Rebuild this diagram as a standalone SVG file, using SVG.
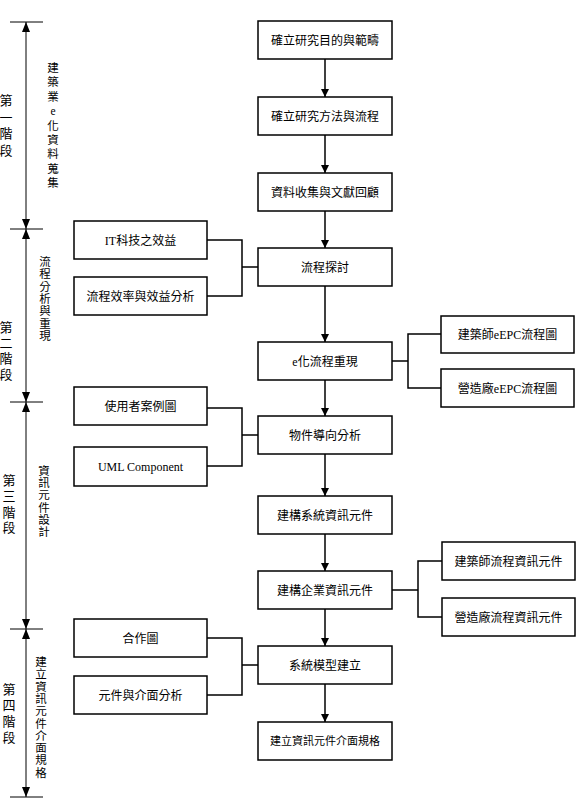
<svg xmlns="http://www.w3.org/2000/svg" width="578" height="799" viewBox="0 0 578 799">
<style>
.box{fill:#fff;stroke:#000;stroke-width:1.5}
.t{font-family:"Liberation Serif","Noto Sans CJK TC",serif;font-size:12px;fill:#000;text-anchor:middle}
.s{font-size:11px}
.v{font-family:"Liberation Serif","Noto Sans CJK TC",serif;font-size:13px;fill:#000;text-anchor:middle}
.v2{font-family:"Liberation Serif","Noto Sans CJK TC",serif;font-size:11.5px;fill:#000;text-anchor:middle}
.ln{fill:none;stroke:#000;stroke-width:1.5}
.dim{fill:none;stroke:#000;stroke-width:1}
</style>
<defs>
<marker id="ah" markerWidth="8" markerHeight="10" refX="8" refY="4" orient="auto" markerUnits="userSpaceOnUse">
<path d="M0,0 L8,4 L0,8 Z" fill="#000"/>
</marker>
<marker id="dh" markerWidth="10" markerHeight="8" refX="10" refY="4" orient="auto-start-reverse" markerUnits="userSpaceOnUse">
<path d="M0,0 L10,4 L0,8 Z" fill="#000"/>
</marker>
</defs>

<g id="stages">
<g class="dim">
<line x1="10" y1="22" x2="43" y2="22"/>
<line x1="10" y1="229" x2="43" y2="229"/>
<line x1="10" y1="402" x2="43" y2="402"/>
<line x1="10" y1="629" x2="43" y2="629"/>
<line x1="10" y1="797" x2="43" y2="797"/>
<line x1="26" y1="22" x2="26" y2="229" marker-start="url(#dh)" marker-end="url(#dh)"/>
<line x1="26" y1="229" x2="26" y2="402" marker-start="url(#dh)" marker-end="url(#dh)"/>
<line x1="26" y1="402" x2="26" y2="629" marker-start="url(#dh)" marker-end="url(#dh)"/>
<line x1="26" y1="629" x2="26" y2="797" marker-start="url(#dh)" marker-end="url(#dh)"/>
</g>
<text class="v"><tspan x="6" y="105">第</tspan><tspan x="6" y="122">一</tspan><tspan x="6" y="138">階</tspan><tspan x="6" y="155">段</tspan></text>
<text class="v2"><tspan x="53" y="72">建</tspan><tspan x="53" y="86.4">築</tspan><tspan x="53" y="100.8">業</tspan><tspan x="53" y="115.2">e</tspan><tspan x="53" y="129.6">化</tspan><tspan x="53" y="144">資</tspan><tspan x="53" y="158.4">料</tspan><tspan x="53" y="172.8">蒐</tspan><tspan x="53" y="187.2">集</tspan></text>
<text class="v"><tspan x="6" y="332">第</tspan><tspan x="6" y="348">二</tspan><tspan x="6" y="363">階</tspan><tspan x="6" y="379">段</tspan></text>
<text class="v2"><tspan x="45" y="266">流</tspan><tspan x="45" y="278.3">程</tspan><tspan x="45" y="290.6">分</tspan><tspan x="45" y="302.9">析</tspan><tspan x="45" y="315.2">與</tspan><tspan x="45" y="327.5">重</tspan><tspan x="45" y="340">現</tspan></text>
<text class="v"><tspan x="9" y="485">第</tspan><tspan x="9" y="501">三</tspan><tspan x="9" y="517">階</tspan><tspan x="9" y="532">段</tspan></text>
<text class="v2"><tspan x="44" y="475">資</tspan><tspan x="44" y="487.2">訊</tspan><tspan x="44" y="499.4">元</tspan><tspan x="44" y="511.6">件</tspan><tspan x="44" y="523.8">設</tspan><tspan x="44" y="536">計</tspan></text>
<text class="v"><tspan x="9" y="694">第</tspan><tspan x="9" y="710">四</tspan><tspan x="9" y="726">階</tspan><tspan x="9" y="742">段</tspan></text>
<text class="v2"><tspan x="41" y="666">建</tspan><tspan x="41" y="678.3">立</tspan><tspan x="41" y="690.6">資</tspan><tspan x="41" y="702.9">訊</tspan><tspan x="41" y="715.2">元</tspan><tspan x="41" y="727.5">件</tspan><tspan x="41" y="739.8">介</tspan><tspan x="41" y="752.1">面</tspan><tspan x="41" y="764.4">規</tspan><tspan x="41" y="777">格</tspan></text>
</g>

<g id="connectors">
<line class="ln" x1="325" y1="59" x2="325" y2="97" marker-end="url(#ah)"/>
<line class="ln" x1="325" y1="135" x2="325" y2="173" marker-end="url(#ah)"/>
<line class="ln" x1="325" y1="211" x2="325" y2="248" marker-end="url(#ah)"/>
<line class="ln" x1="325" y1="286" x2="325" y2="342" marker-end="url(#ah)"/>
<line class="ln" x1="325" y1="380" x2="325" y2="416" marker-end="url(#ah)"/>
<line class="ln" x1="325" y1="454" x2="325" y2="496" marker-end="url(#ah)"/>
<line class="ln" x1="325" y1="534" x2="325" y2="571" marker-end="url(#ah)"/>
<line class="ln" x1="325" y1="609" x2="325" y2="646" marker-end="url(#ah)"/>
<line class="ln" x1="325" y1="684" x2="325" y2="722" marker-end="url(#ah)"/>
<path class="ln" d="M207,240 H242 V296 H207 M242,267 H258"/>
<path class="ln" d="M207,408 H242 V466 H207 M242,435 H258"/>
<path class="ln" d="M207,638 H242 V695 H207 M242,665 H258"/>
<path class="ln" d="M441,334 H408 V388 H441 M392,361 H408"/>
<path class="ln" d="M442,561 H418 V617 H442 M392,590 H418"/>
</g>

<g id="n1"><rect class="box" x="258" y="21" width="134" height="38"/><text class="t" x="325" y="44.5">確立研究目的與範疇</text></g>
<g id="n2"><rect class="box" x="258" y="97" width="134" height="38"/><text class="t" x="325" y="120.5">確立研究方法與流程</text></g>
<g id="n3"><rect class="box" x="258" y="173" width="134" height="38"/><text class="t" x="325" y="196.5">資料收集與文獻回顧</text></g>
<g id="n4"><rect class="box" x="258" y="248" width="134" height="38"/><text class="t" x="325" y="271.5">流程探討</text></g>
<g id="n5"><rect class="box" x="258" y="342" width="134" height="38"/><text class="t" x="325" y="365.5">e化流程重現</text></g>
<g id="n6"><rect class="box" x="258" y="416" width="134" height="38"/><text class="t" x="325" y="439.5">物件導向分析</text></g>
<g id="n7"><rect class="box" x="258" y="496" width="134" height="38"/><text class="t" x="325" y="519.5">建構系統資訊元件</text></g>
<g id="n8"><rect class="box" x="258" y="571" width="134" height="38"/><text class="t" x="325" y="594.5">建構企業資訊元件</text></g>
<g id="n9"><rect class="box" x="258" y="646" width="134" height="38"/><text class="t" x="325" y="669.5">系統模型建立</text></g>
<g id="n10"><rect class="box" x="258" y="722" width="134" height="38"/><text class="t s" x="325" y="745">建立資訊元件介面規格</text></g>

<g id="l1"><rect class="box" x="74" y="221" width="133" height="38"/><text class="t" x="140.5" y="244.5">IT科技之效益</text></g>
<g id="l2"><rect class="box" x="74" y="277" width="133" height="38"/><text class="t" x="140.5" y="300.5">流程效率與效益分析</text></g>
<g id="l3"><rect class="box" x="74" y="387" width="133" height="38"/><text class="t" x="140.5" y="410.5">使用者案例圖</text></g>
<g id="l4"><rect class="box" x="74" y="447" width="133" height="39"/><text class="t" x="140.5" y="471">UML Component</text></g>
<g id="l5"><rect class="box" x="74" y="619" width="133" height="38"/><text class="t" x="140.5" y="642.5">合作圖</text></g>
<g id="l6"><rect class="box" x="74" y="676" width="133" height="38"/><text class="t" x="140.5" y="699.5">元件與介面分析</text></g>

<g id="r1"><rect class="box" x="441" y="316" width="133" height="37"/><text class="t" x="507.5" y="339">建築師eEPC流程圖</text></g>
<g id="r2"><rect class="box" x="441" y="369" width="133" height="38"/><text class="t" x="507.5" y="392.5">營造廠eEPC流程圖</text></g>
<g id="r3"><rect class="box" x="442" y="542" width="133" height="38"/><text class="t" x="508.5" y="565.5">建築師流程資訊元件</text></g>
<g id="r4"><rect class="box" x="442" y="598" width="133" height="38"/><text class="t" x="508.5" y="621.5">營造廠流程資訊元件</text></g>
</svg>
